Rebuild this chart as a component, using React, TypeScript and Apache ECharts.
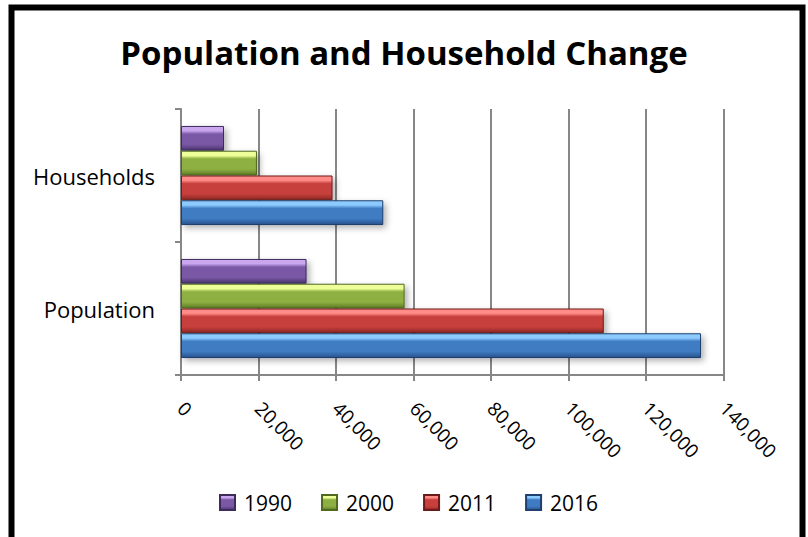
import React, { useEffect, useRef } from "react";
import * as echarts from "echarts";

const categories = ["Households", "Population"];
const years = ["1990", "2000", "2011", "2016"];
const values1990 = [11100, 32400];
const values2000 = [19600, 57700];
const values2011 = [39100, 109100];
const values2016 = [52200, 134200];
const xTicks = [0, 20000, 40000, 60000, 80000, 100000, 120000, 140000];

const palettes = [
  { top: "#C9A6EE", mid: "#7A58A6", bot: "#4A3470", edge: "#3E2B5E" },
  { top: "#EEFF9A", mid: "#8EAF42", bot: "#5E7E25", edge: "#4E6A1E" },
  { top: "#FF8C88", mid: "#C7403D", bot: "#8C2624", edge: "#6E1A18" },
  { top: "#8DCBFF", mid: "#3F7BC2", bot: "#28528C", edge: "#1F3F6E" },
];

function grad(p: { top: string; mid: string; bot: string }) {
  return new echarts.graphic.LinearGradient(0, 0, 0, 1, [
    { offset: 0, color: p.top },
    { offset: 0.18, color: p.top },
    { offset: 0.32, color: p.mid },
    { offset: 0.75, color: p.mid },
    { offset: 1, color: p.bot },
  ]);
}

export default function App() {
  const ref = useRef<HTMLDivElement>(null);
  useEffect(() => {
    if (!ref.current) return;
    const chart = echarts.init(ref.current, null, { renderer: "svg" });
    const seriesData = [values1990, values2000, values2011, values2016];
    const gray = "#878787";
    chart.setOption({
      animation: false,
      backgroundColor: "#ffffff",
      title: {
        text: "Population and Household Change",
        left: "center",
        top: 31,
        textStyle: {
          fontFamily: "Open Sans",
          fontSize: 33,
          fontWeight: "bold",
          color: "#000",
        },
      },
      graphic: [
        {
          type: "rect",
          shape: { x: 11.5, y: 7.5, width: 791, height: 560 },
          style: { fill: "none", stroke: "#000", lineWidth: 6 },
          z: 100,
        },
      ],
      legend: {
        bottom: 19,
        left: 214,
        itemWidth: 15,
        itemHeight: 15,
        itemGap: 29,
        icon: "rect",
        textStyle: {
          fontFamily: "Open Sans",
          fontSize: 21,
          color: "#000",
          padding: [0, 0, 0, 4],
        },
        data: years,
      },
      grid: { left: 181, right: 84.5, top: 109, bottom: 162, containLabel: false },
      xAxis: {
        type: "value",
        min: 0,
        max: 140000,
        interval: 20000,
        axisLine: { show: true, lineStyle: { color: gray, width: 2 } },
        axisTick: { show: true, length: 6, lineStyle: { color: gray, width: 2 } },
        splitLine: { show: true, lineStyle: { color: gray, width: 2 } },
        axisLabel: {
          rotate: -45,
          margin: 30,
          fontFamily: "Open Sans",
          fontSize: 19,
          color: "#000",
          formatter: (v: number) => (xTicks.includes(v) ? v.toLocaleString("en-US") : ""),
        },
      },
      yAxis: {
        type: "category",
        inverse: true,
        data: categories,
        axisLine: { show: true, lineStyle: { color: gray, width: 2 } },
        axisTick: { show: true, length: 6, lineStyle: { color: gray, width: 2 } },
        splitLine: { show: false },
        axisLabel: {
          margin: 26,
          fontFamily: "Open Sans",
          fontSize: 22,
          color: "#000",
        },
      },
      series: years.map((y, i) => ({
        name: y,
        type: "bar",
        data: seriesData[i],
        barGap: "0%",
        barCategoryGap: "25.5%",
        itemStyle: {
          color: grad(palettes[i]),
          borderColor: palettes[i].edge,
          borderWidth: 1,
          shadowBlur: 6,
          shadowOffsetX: 3,
          shadowOffsetY: 3,
          shadowColor: "rgba(0,0,0,0.3)",
        },
      })),
    });
    return () => chart.dispose();
  }, []);
  return (
    <div
      ref={ref}
      style={{ position: "absolute", left: 0, top: 0, width: 808, height: 537 }}
    />
  );
}
